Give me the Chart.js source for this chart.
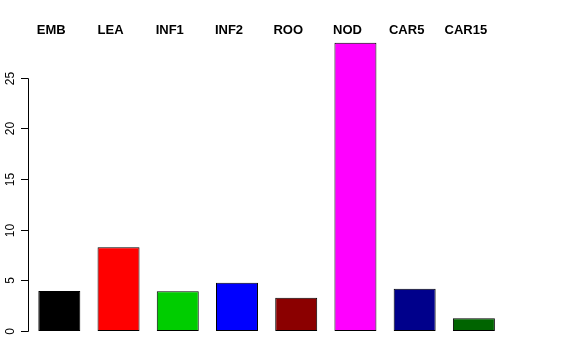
<!DOCTYPE html>
<html>
<head>
<meta charset="utf-8">
<script src="https://cdn.jsdelivr.net/npm/chart.js@4/dist/chart.umd.min.js"></script>
<style>
  html, body { margin: 0; padding: 0; background: #fff; }
  #wrap { width: 576px; height: 360px; }
</style>
</head>
<body>
<div id="wrap"><canvas id="c" width="576" height="360"></canvas></div>
<script>
const categories = ["EMB", "LEA", "INF1", "INF2", "ROO", "NOD", "CAR5", "CAR15"];
const values = [3.95, 8.26, 3.92, 4.77, 3.29, 28.46, 4.18, 1.25];
const barColors = ["#000000", "#FF0000", "#00CD00", "#0000FF", "#8B0000", "#FF00FF", "#00008B", "#006400"];
const yTicks = [0, 5, 10, 15, 20, 25];

const rAxisPlugin = {
  id: 'rAxis',
  afterDraw(chart) {
    const ctx = chart.ctx;
    const y = chart.scales.y;
    const x = chart.scales.x;
    const axisX = 28.5;
    ctx.save();
    ctx.strokeStyle = '#000';
    ctx.lineWidth = 1;
    ctx.beginPath();
    ctx.moveTo(axisX, Math.round(y.getPixelForValue(yTicks[0])) + 0.5);
    ctx.lineTo(axisX, Math.round(y.getPixelForValue(yTicks[yTicks.length - 1])) + 0.5);
    ctx.stroke();
    ctx.font = '12px "Liberation Sans", Arial, sans-serif';
    ctx.fillStyle = '#000';
    ctx.textAlign = 'center';
    ctx.textBaseline = 'middle';
    yTicks.forEach(t => {
      const py = Math.round(y.getPixelForValue(t)) + 0.5;
      ctx.beginPath();
      ctx.moveTo(21, py);
      ctx.lineTo(axisX, py);
      ctx.stroke();
      ctx.save();
      ctx.translate(11, py);
      ctx.rotate(-Math.PI / 2);
      ctx.fillText(String(t), 0, 0);
      ctx.restore();
    });
    ctx.font = 'bold 13px "Liberation Sans", Arial, sans-serif';
    categories.forEach((c, i) => {
      const px = x.getPixelForValue(i) - 8;
      ctx.fillText(c, px, 30);
    });
    ctx.restore();
  }
};

new Chart(document.getElementById('c'), {
  type: 'bar',
  data: {
    labels: categories,
    datasets: [{
      data: values,
      backgroundColor: barColors,
      borderColor: '#000000',
      borderWidth: 1,
      borderSkipped: false,
      barPercentage: 0.709,
      categoryPercentage: 1.0
    }]
  },
  options: {
    responsive: false,
    animation: false,
    devicePixelRatio: 1,
    layout: { padding: { left: 29.7, right: 72.5, top: 37.2, bottom: 29 } },
    plugins: { legend: { display: false }, tooltip: { enabled: false }, title: { display: false } },
    scales: {
      x: { display: false, offset: true },
      y: { display: false, min: 0, max: 29 }
    }
  },
  plugins: [rAxisPlugin]
});
</script>
</body>
</html>
